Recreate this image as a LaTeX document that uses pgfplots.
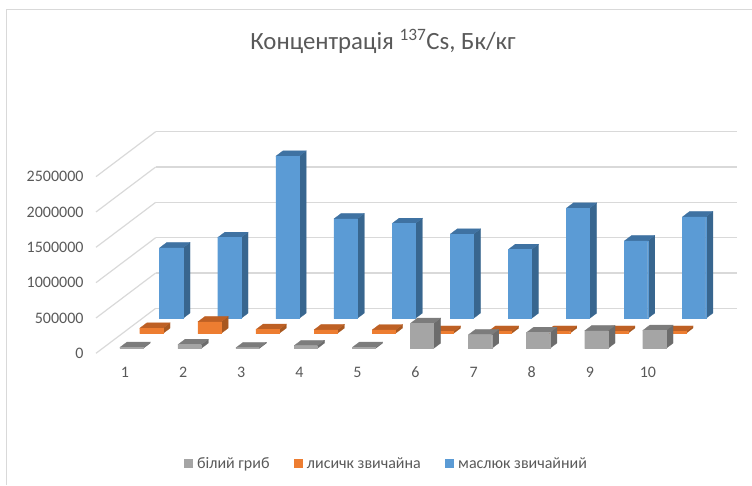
\documentclass[border=0pt]{standalone}
\usepackage{pgfplots}
\usepackage{pgfplotstable}
\usepackage{fontspec}
\setmainfont{Carlito}
\pgfplotsset{compat=1.18}
\usetikzlibrary{calc}
\definecolor{tick}{HTML}{595959}
\definecolor{gridc}{HTML}{D9D9D9}
\definecolor{blueF}{HTML}{5B9BD5}\definecolor{blueS}{HTML}{38668F}\definecolor{blueT}{HTML}{3F72A2}
\definecolor{oranF}{HTML}{ED7D31}\definecolor{oranS}{HTML}{A85820}\definecolor{oranT}{HTML}{BE6024}
\definecolor{grayF}{HTML}{A5A5A5}\definecolor{grayS}{HTML}{6C6C6C}\definecolor{grayT}{HTML}{7C7C7C}
\pgfplotstableread{
cat v
1 15000
2 55000
3 12000
4 40000
5 15000
6 355000
7 195000
8 226000
9 250000
10 255000
}\tblgray
\pgfplotstableread{
cat v
1 75000
2 165000
3 57000
4 52000
5 50000
6 30000
7 30000
8 30000
9 30000
10 30000
}\tbloran
\pgfplotstableread{
cat v
1 1000000
2 1146000
3 2297000
4 1410000
5 1344000
6 1193000
7 976000
8 1561000
9 1099000
10 1439000
}\tblblue
\newcommand\cube[4]{%
  \pgfmathsetmacro\xa{#1-0.2}\pgfmathsetmacro\xb{#1+0.2}%
  \pgfmathsetmacro\ya{#2-0.18}\pgfmathsetmacro\yb{#2+0.18}%
  \edef\zz{\the\numexpr#3/1000\relax}%
  \edef\doit{%
    \noexpand\addplot3[forget plot,fill=#4S,draw=#4S,line width=0.2pt] coordinates {(\xb,\ya,0)(\xb,\yb,0)(\xb,\yb,\zz)(\xb,\ya,\zz)(\xb,\ya,0)};
    \noexpand\addplot3[forget plot,fill=#4T,draw=#4T,line width=0.2pt] coordinates {(\xa,\ya,\zz)(\xb,\ya,\zz)(\xb,\yb,\zz)(\xa,\yb,\zz)(\xa,\ya,\zz)};
    \noexpand\addplot3[forget plot,fill=#4F,draw=#4F,line width=0.2pt] coordinates {(\xa,\ya,0)(\xb,\ya,0)(\xb,\ya,\zz)(\xa,\ya,\zz)(\xa,\ya,0)};
  }\doit}
\newcommand\series[3]{%
  \pgfplotsforeachungrouped \i in {0,...,9}{%
    \pgfplotstablegetelem{\i}{v}\of#1%
    \edef\val{\pgfplotsretval}%
    \pgfmathtruncatemacro\c{\i+1}%
    \cube{\c}{#2}{\val}{#3}}}
\begin{document}
\begin{tikzpicture}
\begin{axis}[
  x={(58.1pt,0pt)}, y={(19.9pt,15pt)}, z={(0pt,0.07066pt)},
  xmin=0.5,xmax=10.5,ymin=0,ymax=3,zmin=0,zmax=2500,
  clip=false, no markers,
  axis line style={draw=none},
  tick style={draw=none},
  xtick={1,...,10}, ytick=\empty,
  ztick={0,500,1000,1500,2000,2500},
  zticklabels={0,500000,1000000,1500000,2000000,2500000},
  xticklabels={1,2,3,4,5,6,7,8,9,10},
  xmajorgrids=false, ymajorgrids=false, zmajorgrids=true,
  grid style={gridc,line width=1.2pt},
  ticklabel style={text=tick,font=\fontsize{16}{16}\selectfont},
  x tick label style={anchor=center,yshift=-19pt},
  z tick label style={anchor=east,xshift=-9pt},
  legend style={draw=none,fill=none,legend columns=3,text=tick,
    font=\fontsize{16}{16}\selectfont,
    at={(0.132,-0.497)},anchor=west,
    /tikz/every odd column/.style={column sep=3pt},
    /tikz/every even column/.style={column sep=22pt}},
  legend image code/.code={\fill[#1] (0pt,-4pt) rectangle (8pt,4pt);},
]
\coordinate (A) at (axis cs:0.5,0,0);
\series{\tblblue}{2.5}{blue}
\series{\tbloran}{1.5}{oran}
\series{\tblgray}{0.5}{gray}
\addlegendimage{grayF}\addlegendentry{білий гриб}
\addlegendimage{oranF}\addlegendentry{лисичк звичайна}
\addlegendimage{blueF}\addlegendentry{маслюк звичайний}
\end{axis}
\coordinate (O) at ($(A)+(-96pt,353.3pt)$);
\path[use as bounding box] (O) rectangle ($(O)+(752pt,-485pt)$);
\begin{scope}[shift={(O)},x=1pt,y=-1pt]
\draw[gridc,line width=1.3pt] (6.5,485)--(6.5,9.5)--(752,9.5);
\node[text=tick,font=\fontsize{24.8}{26}\selectfont] at (383,41) {Концентрація \textsuperscript{137}Cs, Бк/кг};
\end{scope}
\end{tikzpicture}
\end{document}
